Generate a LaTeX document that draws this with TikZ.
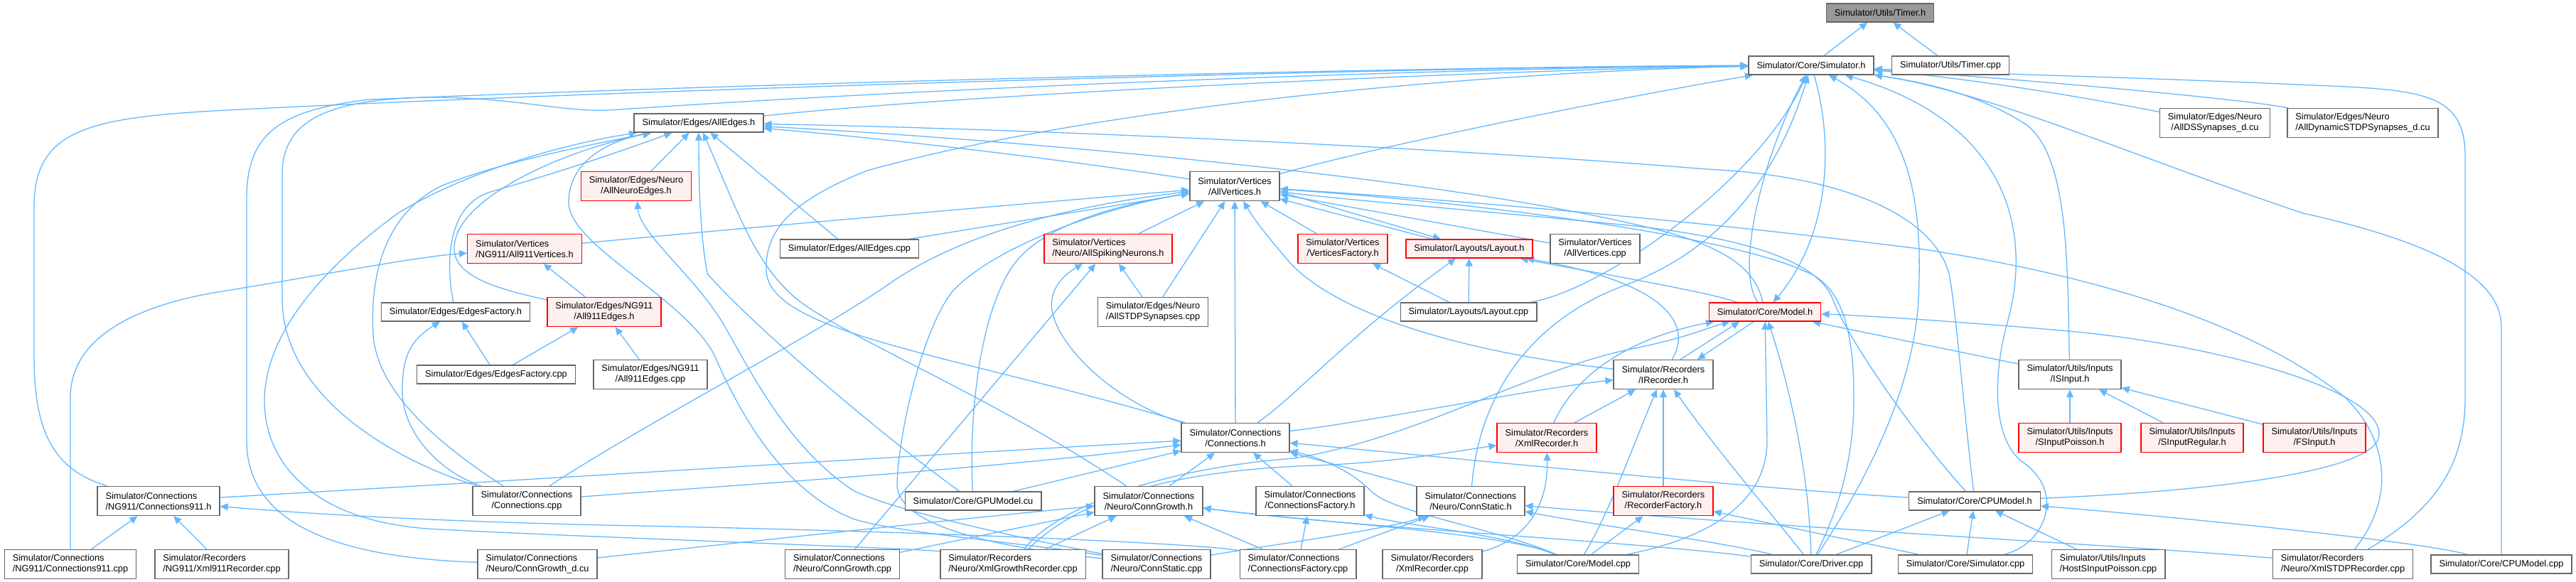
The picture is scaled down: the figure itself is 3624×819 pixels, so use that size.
\documentclass[tikz,border=0pt]{standalone}
\usepackage{fontspec}
\setmainfont{Liberation Sans}
\usetikzlibrary{arrows.meta}
\definecolor{edgec}{HTML}{63B8FF}
\definecolor{boxgray}{HTML}{666666}
\definecolor{pinkc}{HTML}{FFF0F0}
\definecolor{redc}{HTML}{FF0000}
\definecolor{timerfill}{HTML}{999999}
\newcommand\nodefont{\fontsize{6.4pt}{7.5pt}\selectfont}
\newcommand\twoline[2]{%
  \setbox0=\hbox{#1}\setbox2=\hbox{#2}%
  \ifdim\wd0>\wd2 \dimen0=\wd0 \else \dimen0=\wd2 \fi
  \vbox{\baselineskip=7.5pt \lineskiplimit=0pt \hbox to\dimen0{\box0\hfil}\hbox to\dimen0{\hfil\box2\hfil}}}
\pgfdeclarelayer{edgelayer}
\pgfsetlayers{edgelayer,main}
\begin{document}
\begin{tikzpicture}[x=0.5pt,y=-0.5pt,
  wbox/.style={draw=boxgray,fill=white,line width=0.7pt,inner xsep=5.75pt,inner ysep=0pt,minimum height=13pt,font=\nodefont},
  wbox2/.style={wbox,minimum height=20.5pt},
  rbox/.style={wbox,draw=redc,fill=pinkc},
  rbox2/.style={rbox,minimum height=20.5pt},
  edg/.style={draw=edgec,line width=0.65pt,-{Triangle[length=5.5pt,width=5pt]}}]
\useasboundingbox (0,0) rectangle (3624,819);
% ---------------- nodes ----------------
\node[wbox,fill=timerfill] (timerh) at (2645,18) {Simulator/Utils/Timer.h};
\node[wbox] (simh) at (2548,92) {Simulator/Core/Simulator.h};
\node[wbox] (timercpp) at (2744,92) {Simulator/Utils/Timer.cpp};
\node[wbox] (alledgesh) at (983,173) {Simulator/Edges/AllEdges.h};
\node[wbox2] (allds) at (3116,173) {\twoline{Simulator/Edges/Neuro}{/AllDSSynapses\_d.cu}};
\node[wbox2] (alldyn) at (3324,173) {\twoline{Simulator/Edges/Neuro}{/AllDynamicSTDPSynapses\_d.cu}};
\node[rbox2] (allneuroedges) at (895,262) {\twoline{Simulator/Edges/Neuro}{/AllNeuroEdges.h}};
\node[wbox2] (allverticesh) at (1737,262) {\twoline{Simulator/Vertices}{/AllVertices.h}};
\node[rbox2] (all911verticesh) at (738,350) {\twoline{Simulator/Vertices}{/NG911/All911Vertices.h}};
\node[wbox] (alledgescpp) at (1195,350) {Simulator/Edges/AllEdges.cpp};
\node[rbox2] (allspiking) at (1559,350) {\twoline{Simulator/Vertices}{/Neuro/AllSpikingNeurons.h}};
\node[rbox2] (verticesfactoryh) at (1889,350) {\twoline{Simulator/Vertices}{/VerticesFactory.h}};
\node[rbox] (layouth) at (2067,350) {Simulator/Layouts/Layout.h};
\node[wbox2] (allverticescpp) at (2244,350) {\twoline{Simulator/Vertices}{/AllVertices.cpp}};
\node[wbox] (edgesfactoryh) at (641,439) {Simulator/Edges/EdgesFactory.h};
\node[rbox2] (all911edgesh) at (850,439) {\twoline{Simulator/Edges/NG911}{/All911Edges.h}};
\node[wbox2] (allstdpcpp) at (1622,439) {\twoline{Simulator/Edges/Neuro}{/AllSTDPSynapses.cpp}};
\node[wbox] (layoutcpp) at (2066,439) {Simulator/Layouts/Layout.cpp};
\node[rbox] (modelh) at (2483,439) {Simulator/Core/Model.h};
\node[wbox] (edgesfactorycpp) at (698,527) {Simulator/Edges/EdgesFactory.cpp};
\node[wbox2] (all911edgescpp) at (915,527) {\twoline{Simulator/Edges/NG911}{/All911Edges.cpp}};
\node[wbox2] (irecorderh) at (2340,527) {\twoline{Simulator/Recorders}{/IRecorder.h}};
\node[wbox2] (isinput) at (2912,527) {\twoline{Simulator/Utils/Inputs}{/ISInput.h}};
\node[wbox2] (connectionsh) at (1738,616) {\twoline{Simulator/Connections}{/Connections.h}};
\node[rbox2] (xmlrecorderh) at (2176,616) {\twoline{Simulator/Recorders}{/XmlRecorder.h}};
\node[rbox2] (sinputpoisson) at (2912,616) {\twoline{Simulator/Utils/Inputs}{/SInputPoisson.h}};
\node[rbox2] (sinputregular) at (3084,616) {\twoline{Simulator/Utils/Inputs}{/SInputRegular.h}};
\node[rbox2] (fsinput) at (3256,616) {\twoline{Simulator/Utils/Inputs}{/FSInput.h}};
\node[wbox2] (conn911h) at (223,705) {\twoline{Simulator/Connections}{/NG911/Connections911.h}};
\node[wbox2] (connectionscpp) at (741,705) {\twoline{Simulator/Connections}{/Connections.cpp}};
\node[wbox] (gpumodel) at (1369,705) {Simulator/Core/GPUModel.cu};
\node[wbox2] (conngrowthh) at (1616,705) {\twoline{Simulator/Connections}{/Neuro/ConnGrowth.h}};
\node[wbox2] (connfactoryh) at (1843,705) {\twoline{Simulator/Connections}{/ConnectionsFactory.h}};
\node[wbox2] (connstatich) at (2069,705) {\twoline{Simulator/Connections}{/Neuro/ConnStatic.h}};
\node[rbox2] (recfactoryh) at (2340,705) {\twoline{Simulator/Recorders}{/RecorderFactory.h}};
\node[wbox] (cpumodelh) at (2778,705) {Simulator/Core/CPUModel.h};
\node[wbox2] (conn911cpp) at (99,794) {\twoline{Simulator/Connections}{/NG911/Connections911.cpp}};
\node[wbox2] (xml911) at (312,794) {\twoline{Simulator/Recorders}{/NG911/Xml911Recorder.cpp}};
\node[wbox2] (conngrowthdcu) at (756,794) {\twoline{Simulator/Connections}{/Neuro/ConnGrowth\_d.cu}};
\node[wbox2] (conngrowthcpp) at (1185,794) {\twoline{Simulator/Connections}{/Neuro/ConnGrowth.cpp}};
\node[wbox2] (xmlgrowth) at (1425,794) {\twoline{Simulator/Recorders}{/Neuro/XmlGrowthRecorder.cpp}};
\node[wbox2] (connstaticcpp) at (1627,794) {\twoline{Simulator/Connections}{/Neuro/ConnStatic.cpp}};
\node[wbox2] (connfactorycpp) at (1826,794) {\twoline{Simulator/Connections}{/ConnectionsFactory.cpp}};
\node[wbox2] (xmlreccpp) at (2015,794) {\twoline{Simulator/Recorders}{/XmlRecorder.cpp}};
\node[wbox] (modelcpp) at (2220,794) {Simulator/Core/Model.cpp};
\node[wbox] (driver) at (2548,794) {Simulator/Core/Driver.cpp};
\node[wbox] (simcpp) at (2765,794) {Simulator/Core/Simulator.cpp};
\node[wbox2] (hostsinput) at (2966,794) {\twoline{Simulator/Utils/Inputs}{/HostSInputPoisson.cpp}};
\node[wbox2] (xmlstdp) at (3296,794) {\twoline{Simulator/Recorders}{/Neuro/XmlSTDPRecorder.cpp}};
\node[wbox] (cpumodelcpp) at (3519,794) {Simulator/Core/CPUModel.cpp};
% ---------------- edges ----------------
\begin{pgfonlayer}{edgelayer}
\fill[white] (0,0) rectangle (3624,819);
\draw[edg] (simh) -- (timerh);
\draw[edg] (timercpp) -- (timerh);
% into Simulator.h
\draw[edg] (alledgesh) .. controls (1400,128) and (2200,96) .. (simh);
\draw[edg] (allverticesh) .. controls (2000,190) and (2350,125) .. (simh);
\draw[edg] (conn911h) .. controls (70,660) and (48,600) .. (48,500) -- (48,290) .. controls (48,180) and (130,165) .. (320,155) .. controls (900,125) and (2000,94) .. (simh);
\draw[edg] (conngrowthdcu) .. controls (480,785) and (347,740) .. (347,620) -- (347,280) .. controls (347,190) and (390,155) .. (520,140) .. controls (1200,112) and (2100,93) .. (simh);
\draw[edg] (connectionscpp) .. controls (560,650) and (397,560) .. (397,420) -- (397,245) .. controls (397,170) and (460,140) .. (600,137) .. controls (720,136) and (790,158) .. (857,155) .. controls (1400,118) and (2100,95) .. (simh);
\draw[edg] (connectionsh) .. controls (1350,500) and (1080,470) .. (1078,380) .. controls (1076,320) and (1120,280) .. (1220,240) .. controls (1600,135) and (2200,98) .. (simh);
\draw[edg] (driver) .. controls (2610,700) and (2692,560) .. (2699,420) .. controls (2705,290) and (2690,170) .. (simh);
\draw[edg] (simcpp) .. controls (2880,765) and (2905,690) .. (2845,650) .. controls (2800,615) and (2805,520) .. (2825,450) .. controls (2860,320) and (2820,170) .. (simh);
\draw[edg] (isinput) .. controls (2908,380) and (2912,220) .. (2850,175) .. controls (2780,130) and (2700,115) .. (simh);
\draw[edg] (cpumodelcpp) -- (3519,460) .. controls (3519,390) and (3420,340) .. (3240,300) .. controls (3000,220) and (2800,130) .. (simh);
\draw[edg] (xmlstdp) .. controls (3420,720) and (3468,660) .. (3468,560) -- (3468,220) .. controls (3468,140) and (3420,128) .. (3300,122) .. controls (3000,108) and (2750,103) .. (simh);
\draw[edg] (alldyn) .. controls (3150,138) and (2800,108) .. (simh);
\draw[edg] (allds) .. controls (3000,150) and (2800,112) .. (simh);
\draw[edg] (modelh) .. controls (2440,380) and (2480,220) .. (simh);
\draw[edg] (layoutcpp) .. controls (2250,410) and (2470,260) .. (simh);
\draw[edg] (connstatich) .. controls (2080,560) and (2150,450) .. (2290,400) .. controls (2420,350) and (2500,250) .. (simh);
\draw[edg] (simh) .. controls (2580,200) and (2575,330) .. (modelh);
% into AllEdges.h
\draw[edg] (allneuroedges) -- (alledgesh);
\draw[edg] (alledgescpp) -- (alledgesh);
\draw[edg] (edgesfactoryh) .. controls (628,380) and (625,290) .. (690,270) .. controls (760,250) and (840,225) .. (alledgesh);
\draw[edg] (all911edgesh) .. controls (690,405) and (630,385) .. (640,340) .. controls (650,280) and (780,215) .. (alledgesh);
\draw[edg] (allverticesh) .. controls (1500,225) and (1250,195) .. (alledgesh);
\draw[edg] (cpumodelh) .. controls (2760,550) and (2752,440) .. (2742,385) .. controls (2715,290) and (2560,245) .. (2400,238) .. controls (2000,205) and (1400,180) .. (alledgesh);
\draw[edg] (modelh) .. controls (2470,380) and (2430,345) .. (2310,318) .. controls (2000,245) and (1400,195) .. (alledgesh);
\draw[edg] (gpumodel) .. controls (1250,620) and (1060,460) .. (995,385) .. controls (985,330) and (983,260) .. (alledgesh);
\draw[edg] (conngrowthh) .. controls (1400,560) and (1180,470) .. (1120,420) .. controls (1060,370) and (1035,290) .. (alledgesh);
\draw[edg] (connectionscpp) .. controls (640,640) and (530,560) .. (525,470) .. controls (520,380) and (545,300) .. (620,262) .. controls (700,230) and (800,210) .. (alledgesh);
\draw[edg] (connstaticcpp) .. controls (1450,765) and (1260,750) .. (1200,730) .. controls (1100,690) and (1040,580) .. (1005,500) .. controls (965,420) and (800,345) .. (800,285) .. controls (800,230) and (850,200) .. (alledgesh);
\draw[edg] (xmlgrowth) .. controls (1300,772) and (800,755) .. (620,745) .. controls (440,738) and (370,650) .. (372,560) .. controls (375,470) and (450,380) .. (560,300) .. controls (650,245) and (780,205) .. (alledgesh);
% into AllVertices.h
\draw[edg] (all911verticesh) .. controls (1000,325) and (1400,290) .. (allverticesh);
\draw[edg] (alledgescpp) -- (allverticesh);
\draw[edg] (connectionscpp) .. controls (900,600) and (1150,470) .. (1250,400) .. controls (1350,330) and (1500,290) .. (allverticesh);
\draw[edg] (gpumodel) .. controls (1362,560) and (1385,420) .. (1432,365) .. controls (1480,310) and (1590,285) .. (allverticesh);
\draw[edg] (connstaticcpp) .. controls (1400,770) and (1260,740) .. (1262,680) .. controls (1265,600) and (1300,460) .. (1340,410) .. controls (1400,345) and (1560,290) .. (allverticesh);
\draw[edg] (allspiking) -- (allverticesh);
\draw[edg] (allstdpcpp) -- (allverticesh);
\draw[edg] (connectionsh) -- (allverticesh);
\draw[edg] (irecorderh) .. controls (2050,495) and (1880,440) .. (1815,370) .. controls (1785,335) and (1765,310) .. (allverticesh);
\draw[edg] (verticesfactoryh) -- (allverticesh);
\draw[edg] ([xshift=-26pt]layouth.north) -- ([yshift=-9pt]allverticesh.east);
\draw[edg] ([yshift=-4pt]allverticesh.east) -- ([xshift=-20pt]layouth.north);
\draw[edg] ([yshift=4pt]allverticescpp.west) -- (allverticesh);
\draw[edg] (xmlstdp) .. controls (3370,700) and (3360,620) .. (3300,560) .. controls (3150,440) and (2900,380) .. (2700,350) .. controls (2300,300) and (1950,275) .. (allverticesh);
\draw[edg] (cpumodelh) .. controls (2700,620) and (2600,480) .. (2578,420) .. controls (2555,365) and (2450,335) .. (2300,318) .. controls (2100,298) and (1900,282) .. (allverticesh);
\draw[edg] (driver) .. controls (2585,720) and (2608,650) .. (2608,560) .. controls (2608,450) and (2585,400) .. (2540,382) .. controls (2450,340) and (2150,290) .. (allverticesh);
% into AllNeuroEdges.h
\draw[edg] (connstaticcpp) .. controls (1450,760) and (1260,720) .. (1200,690) .. controls (1110,630) and (1060,530) .. (1020,460) .. controls (980,390) and (900,330) .. (allneuroedges);
% NG911
\draw[edg] (conn911cpp) -- (99,560) .. controls (99,470) and (200,430) .. (300,412) .. controls (450,388) and (580,362) .. (all911verticesh);
\draw[edg] (all911edgesh) -- (all911verticesh);
\draw[edg] (edgesfactorycpp) -- (all911edgesh);
\draw[edg] (all911edgescpp) -- (all911edgesh);
\draw[edg] (edgesfactorycpp) -- (edgesfactoryh);
\draw[edg] (connectionscpp) .. controls (620,665) and (566,610) .. (566,550) .. controls (566,505) and (575,480) .. (edgesfactoryh);
% AllSpikingNeurons, VerticesFactory, Layout
\draw[edg] (allstdpcpp) -- (allspiking);
\draw[edg] (connectionsh) .. controls (1560,565) and (1470,470) .. (1480,420) .. controls (1485,395) and (1505,382) .. (allspiking);
\draw[edg] (conngrowthcpp) -- (allspiking);
\draw[edg] (layoutcpp) -- (verticesfactoryh);
\draw[edg] (layoutcpp) -- (layouth);
\draw[edg] (connectionsh) .. controls (1820,560) and (1900,470) .. (layouth);
\draw[edg] (modelh) .. controls (2400,410) and (2250,385) .. (layouth);
\draw[edg] (irecorderh) .. controls (2385,450) and (2330,395) .. (layouth);
% into Model.h
\draw[edg] (cpumodelh) .. controls (3100,692) and (3345,665) .. (3347,612) .. controls (3350,545) and (3100,482) .. (2900,465) .. controls (2750,452) and (2620,444) .. (modelh);
\draw[edg] (isinput) -- (modelh);
\draw[edg] (driver) .. controls (2545,650) and (2510,520) .. (modelh);
\draw[edg] ([xshift=12pt]irecorderh.north) -- ([xshift=-18pt]modelh.south);
\draw[edg] ([xshift=-8pt]modelh.south) -- ([xshift=24pt]irecorderh.north);
\draw[edg] (xmlrecorderh) .. controls (2225,510) and (2320,470) .. (modelh);
\draw[edg] (xmlgrowth) .. controls (1480,720) and (1620,660) .. (1820,645) .. controls (2000,615) and (2150,520) .. (2300,490) .. controls (2370,476) and (2400,462) .. (modelh);
\draw[edg] (modelcpp) .. controls (2380,762) and (2486,720) .. (2486,620) -- (modelh);
% into IRecorder.h
\draw[edg] (xmlrecorderh) -- (irecorderh);
\draw[edg] (modelcpp) .. controls (2265,720) and (2300,620) .. (irecorderh);
\draw[edg] (recfactoryh) -- (irecorderh);
\draw[edg] (driver) .. controls (2490,720) and (2420,640) .. (irecorderh);
\draw[edg] (connectionsh) .. controls (1950,590) and (2150,548) .. (irecorderh);
% into ISInput.h
\draw[edg] (sinputpoisson) -- (isinput);
\draw[edg] (sinputregular) -- (isinput);
\draw[edg] (fsinput) -- (isinput);
% into Connections.h
\draw[edg] (connectionscpp) .. controls (1000,685) and (1400,660) .. (connectionsh);
\draw[edg] (conn911h) .. controls (800,672) and (1300,640) .. (connectionsh);
\draw[edg] (gpumodel) -- (connectionsh);
\draw[edg] (conngrowthh) -- (connectionsh);
\draw[edg] (connfactoryh) -- (connectionsh);
\draw[edg] (cpumodelh) .. controls (2500,690) and (2100,650) .. (connectionsh);
\draw[edg] (connstatich) -- (connectionsh);
\draw[edg] (modelcpp) .. controls (2110,745) and (1960,722) .. (1930,692) .. controls (1900,662) and (1860,645) .. (connectionsh);
% into Connections911.h
\draw[edg] (conn911cpp) -- (conn911h);
\draw[edg] (xml911) -- (conn911h);
\draw[edg] (connfactorycpp) .. controls (1700,765) and (1300,748) .. (900,740) .. controls (600,734) and (420,722) .. (conn911h);
% into ConnGrowth.h
\draw[edg] (conngrowthdcu) .. controls (1000,768) and (1350,730) .. (conngrowthh);
\draw[edg] (conngrowthcpp) -- (conngrowthh);
\draw[edg] (xmlgrowth) -- (conngrowthh);
\draw[edg] (connfactorycpp) -- (conngrowthh);
\draw[edg] (modelcpp) .. controls (2120,750) and (1850,735) .. (conngrowthh);
\draw[edg] (driver) .. controls (2300,762) and (1900,742) .. (conngrowthh);
% into ConnectionsFactory.h, ConnStatic.h
\draw[edg] (connfactorycpp) -- (connfactoryh);
\draw[edg] (modelcpp) .. controls (2120,752) and (1980,740) .. (connfactoryh);
\draw[edg] (connfactorycpp) -- (connstatich);
\draw[edg] (connstaticcpp) .. controls (1800,765) and (1950,745) .. (connstatich);
\draw[edg] (driver) .. controls (2420,762) and (2250,740) .. (connstatich);
\draw[edg] (xmlstdp) .. controls (3000,768) and (2500,742) .. (connstatich);
% into XmlRecorder.h, RecorderFactory.h
\draw[edg] (xmlreccpp) .. controls (2140,762) and (2178,720) .. (xmlrecorderh);
\draw[edg] (xmlgrowth) .. controls (1520,700) and (1650,662) .. (1850,655) .. controls (1960,651) and (2050,635) .. (xmlrecorderh);
\draw[edg] (modelcpp) -- (recfactoryh);
\draw[edg] (simcpp) -- (recfactoryh);
% into CPUModel.h
\draw[edg] (cpumodelcpp) .. controls (3400,760) and (3000,722) .. (cpumodelh);
\draw[edg] (driver) -- (cpumodelh);
\draw[edg] (simcpp) -- (cpumodelh);
\draw[edg] (hostsinput) -- (cpumodelh);
\end{pgfonlayer}
\end{tikzpicture}
\end{document}
